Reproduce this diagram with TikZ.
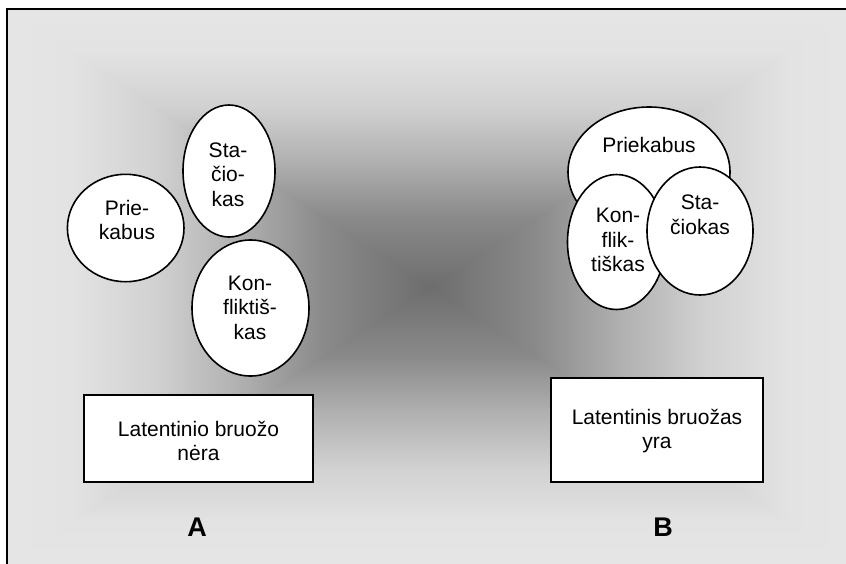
\documentclass[tikz,border=0pt]{standalone}
\usepackage{fontspec}
\setmainfont{Liberation Sans}
\usetikzlibrary{shapes.geometric}
\definecolor{s0}{gray}{0.90}
\definecolor{s1}{gray}{0.89}
\definecolor{s2}{gray}{0.82}
\definecolor{s3}{gray}{0.69}
\definecolor{s4}{gray}{0.54}
\definecolor{s5}{gray}{0.43}
\pgfdeclarehorizontalshading{bgL}{100bp}{color(0bp)=(s0); color(25bp)=(s0); color(32.5bp)=(s1); color(42.5bp)=(s2); color(52.5bp)=(s3); color(62.5bp)=(s4); color(75bp)=(s5); color(100bp)=(s5)}
\pgfdeclarehorizontalshading{bgR}{100bp}{color(0bp)=(s5); color(25bp)=(s5); color(37.5bp)=(s4); color(47.5bp)=(s3); color(57.5bp)=(s2); color(67.5bp)=(s1); color(75bp)=(s0); color(100bp)=(s0)}
\pgfdeclareverticalshading{bgT}{100bp}{color(0bp)=(s5); color(25bp)=(s5); color(37.5bp)=(s4); color(47.5bp)=(s3); color(57.5bp)=(s2); color(67.5bp)=(s1); color(75bp)=(s0); color(100bp)=(s0)}
\pgfdeclareverticalshading{bgB}{100bp}{color(0bp)=(s0); color(25bp)=(s0); color(32.5bp)=(s1); color(42.5bp)=(s2); color(52.5bp)=(s3); color(62.5bp)=(s4); color(75bp)=(s5); color(100bp)=(s5)}
\begin{document}
\begin{tikzpicture}[x=1pt,y=-1pt,
  oval/.style={ellipse, draw=black, fill=white, line width=1.6pt, inner sep=0pt},
  box/.style={rectangle, draw=black, fill=white, line width=1.6pt, inner sep=0pt},
  lbl/.style={font=\fontsize{21}{24.5}\selectfont, align=center, anchor=base, inner sep=0pt},
  big/.style={font=\fontsize{27}{30}\selectfont\bfseries, anchor=base, inner sep=0pt}]
\useasboundingbox (0,0) rectangle (846,563);
\clip (0,0) rectangle (846,563);
\fill[white] (0,0) rectangle (846,563);
% background rectangular gradient
\coordinate (ctr) at (430,287);
\coordinate (tl) at (7,9);
\coordinate (tr) at (853,9);
\coordinate (bl) at (7,565);
\coordinate (br) at (853,565);
\shade[shading=bgL] (tl) -- (bl) -- (ctr) -- cycle;
\shade[shading=bgR] (tr) -- (br) -- (ctr) -- cycle;
\shade[shading=bgT] ([xshift=-1.5pt]tl) -- ([xshift=1.5pt]tr) -- ([xshift=1.5pt]ctr) -- ([xshift=-1.5pt]ctr) -- cycle;
\shade[shading=bgB] ([xshift=-1.5pt]bl) -- ([xshift=1.5pt]br) -- ([xshift=1.5pt]ctr) -- ([xshift=-1.5pt]ctr) -- cycle;
\draw[line width=2pt] (tl) rectangle (br);
% left group
\node[oval, minimum width=116.6pt, minimum height=107.4pt] (lPriekO) at (125.7,228) {};
\node[oval, minimum width=92pt, minimum height=132pt] (lStacO) at (229,171) {};
\node[oval, minimum width=117pt, minimum height=136pt] (lKonfO) at (250.5,308) {};
\node[lbl] (lPriek) at (127,239.5) {Prie-\\kabus};
\node[lbl] (lStac) at (228,206) {Sta-\\čio-\\kas};
\node[lbl] (lKonf) at (250,339) {Kon-\\fliktiš-\\kas};
\node[box, minimum width=229pt, minimum height=87pt] (boxA) at (198.5,438.5) {};
\node[lbl] (boxAt) at (198.5,460.5) {Latentinio bruožo\\nėra};
\node[big] (A) at (197,536.5) {A};
% right group
\node[oval, minimum width=162pt, minimum height=130pt] (rPriekO) at (649,172) {};
\node[oval, minimum width=98pt, minimum height=135pt] (rKonfO) at (616.5,242) {};
\node[oval, minimum width=106pt, minimum height=128pt] (rStacO) at (700,231) {};
\node[lbl] (rPriek) at (649,152.5) {Priekabus};
\node[lbl] (rKonf) at (618,271.6) {Kon-\\flik-\\tiškas};
\node[lbl] (rStac) at (700,234.25) {Sta-\\čiokas};
\node[box, minimum width=212pt, minimum height=104pt] (boxB) at (657,430) {};
\node[lbl] (boxBt) at (657,448.5) {Latentinis bruožas\\yra};
\node[big] (B) at (663,536) {B};
\end{tikzpicture}
\end{document}
